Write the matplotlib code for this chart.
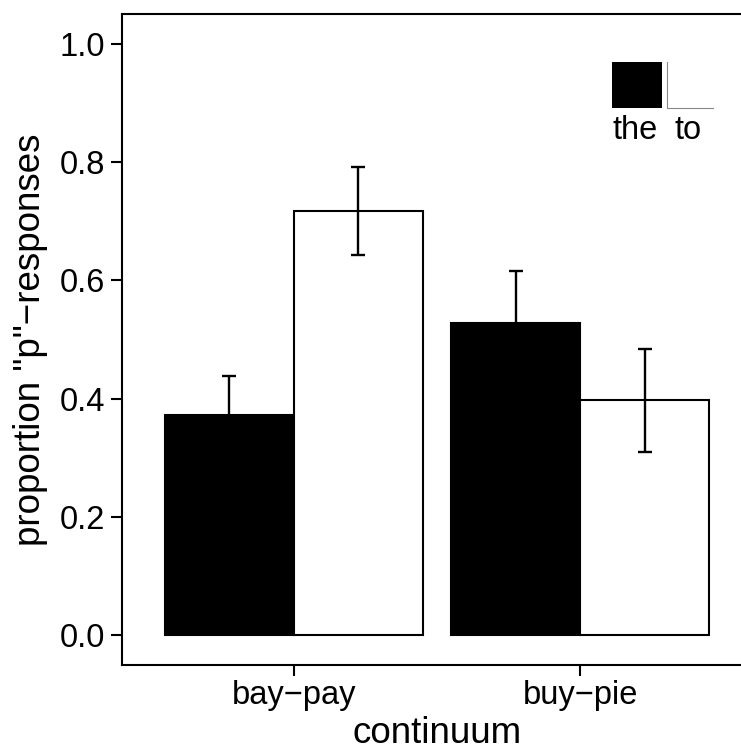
import matplotlib
matplotlib.use("Agg")
import matplotlib.pyplot as plt
from matplotlib.patches import Rectangle
from matplotlib.lines import Line2D
import numpy as np

plt.rcParams['font.family'] = ['Liberation Sans', 'DejaVu Sans']

# proportion of "p" responses per continuum and carrier word
continua = ["bay\u2212pay", "buy\u2212pie"]
carriers = ["the", "to"]
prop_the = [0.373, 0.528]
prop_to = [0.717, 0.397]
se_the = [0.066, 0.088]
se_to = [0.074, 0.087]

W, H = 741, 750
fig = plt.figure(figsize=(W / 100, H / 100), dpi=100)

# panel runs off the right edge of the figure
ax = fig.add_axes([122 / W, 1 - 665 / H, 630 / W, 651 / H])

x = np.arange(1, len(continua) + 1)
bw = 0.45
ax.bar(x - bw / 2, prop_the, bw, color='black', edgecolor='black', linewidth=1.5, zorder=2)
ax.bar(x + bw / 2, prop_to, bw, color='white', edgecolor='black', linewidth=1.5, zorder=2)
ax.errorbar(x - bw / 2, prop_the, yerr=se_the, fmt='none', ecolor='black',
            elinewidth=1.7, capsize=5, capthick=1.7, zorder=3)
ax.errorbar(x + bw / 2, prop_to, yerr=se_to, fmt='none', ecolor='black',
            elinewidth=1.7, capsize=5, capthick=1.7, zorder=3)

ax.set_xlim(0.4, 2.6)
ax.set_ylim(-0.05, 1.05)
ax.set_yticks([0.0, 0.2, 0.4, 0.6, 0.8, 1.0])
ax.set_yticklabels(["0.0", "0.2", "0.4", "0.6", "0.8", "1.0"])
ax.set_xticks(x)
ax.set_xticklabels(continua)
ax.tick_params(axis='both', labelsize=23.5, length=8, width=1.5, direction='out', color='black')
ax.tick_params(axis='y', pad=4)
ax.tick_params(axis='x', pad=3)

for side in ['left', 'top', 'bottom', 'right']:
    ax.spines[side].set_linewidth(1.5)
    ax.spines[side].set_color('black')

ax.set_ylabel('proportion "p"\u2212responses', fontsize=26.5)
ax.set_xlabel('continuum', fontsize=26.5)
ax.yaxis.set_label_coords(-0.118, 0.5)
ax.xaxis.set_label_coords(0.5, -0.078)

# legend keys drawn in pixel positions
def fx(px):
    return px / W

def fy(py):
    return 1 - py / H

fig.add_artist(Rectangle((fx(612), fy(108)), fx(662) - fx(612), fy(62) - fy(108),
                         facecolor='black', edgecolor='none', transform=fig.transFigure))
fig.add_artist(Line2D([fx(667), fx(667), fx(713)], [fy(62), fy(108), fy(108)],
                      color='#888888', linewidth=0.8, transform=fig.transFigure))
fig.text(fx(635), fy(139), carriers[0], ha='center', va='baseline', fontsize=23.5)
fig.text(fx(688), fy(139), carriers[1], ha='center', va='baseline', fontsize=23.5)

fig.savefig("out.png", dpi=100)
